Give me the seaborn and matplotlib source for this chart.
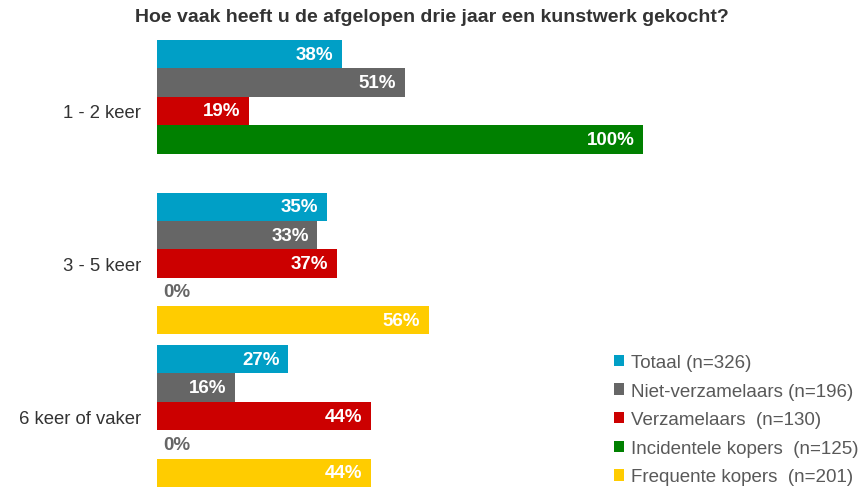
import numpy as np
import pandas as pd
import matplotlib
matplotlib.use("Agg")
import matplotlib.pyplot as plt
import seaborn as sns
from matplotlib.patches import Patch

categories = ["1 - 2 keer", "3 - 5 keer", "6 keer of vaker"]
series = ["Totaal (n=326)", "Niet-verzamelaars (n=196)", "Verzamelaars  (n=130)",
          "Incidentele kopers  (n=125)", "Frequente kopers  (n=201)"]
totaal = [38, 35, 27]
niet_verzamelaars = [51, 33, 16]
verzamelaars = [19, 37, 44]
incidentele = [100, 0, 0]
frequente = [np.nan, 56, 44]
colors = ["#009FC6", "#666666", "#CC0000", "#008000", "#FFCC00"]
title = "Hoe vaak heeft u de afgelopen drie jaar een kunstwerk gekocht?"

values = [totaal, niet_verzamelaars, verzamelaars, incidentele, frequente]
rows = []
for s, vals in zip(series, values):
    for c, v in zip(categories, vals):
        rows.append({"cat": c, "serie": s, "val": v})
df = pd.DataFrame(rows)

sns.set_style("white")
plt.rcParams["font.family"] = ["Liberation Sans", "DejaVu Sans"]

W, H = 861, 489
fig = plt.figure(figsize=(W / 100, H / 100), dpi=100)
ax = fig.add_axes([157 / W, 1 / H, 486 / W, 447 / H])

sns.barplot(data=df, x="val", y="cat", hue="serie", order=categories,
            hue_order=series, palette=colors, orient="h", width=0.93,
            saturation=1, ax=ax, legend=False, errorbar=None, linewidth=0,
            edgecolor="none")

ax.set_xlim(0, 100)
ax.set_ylim(2.465, -0.465)
for sp in ax.spines.values():
    sp.set_visible(False)
ax.set_xticks([])
ax.set_xlabel("")
ax.set_ylabel("")
ax.tick_params(axis="y", length=0, pad=11.5, labelsize=13.3, labelcolor="#333333")

for cont in ax.containers:
    for bar in cont.patches:
        v = bar.get_width()
        if np.isnan(v):
            continue
        yc = bar.get_y() + bar.get_height() / 2
        if v == 0:
            ax.text(1.2, yc, f"{v:.0f}%", ha="left", va="center", fontsize=13.5,
                    fontweight="bold", color="#666666", clip_on=False)
        else:
            ax.text(v - 1.8, yc, f"{v:.0f}%", ha="right", va="center", fontsize=13.5,
                    fontweight="bold", color="white")

fig.text(432 / W, 1 - 18 / H, title, ha="center", va="center", fontsize=14,
         fontweight="bold", color="#333333")

handles = [Patch(facecolor=c, edgecolor="none") for c in colors]
leg = fig.legend(handles, series, loc="upper left",
                 bbox_to_anchor=(614 / W, 1 - 355 / H), frameon=False,
                 fontsize=13.5, handlelength=0.55, handleheight=0.55,
                 handletextpad=0.38, labelspacing=0.62, borderaxespad=0,
                 borderpad=0)
for t in leg.get_texts():
    t.set_color("#595959")

fig.savefig("out.png", dpi=100)
